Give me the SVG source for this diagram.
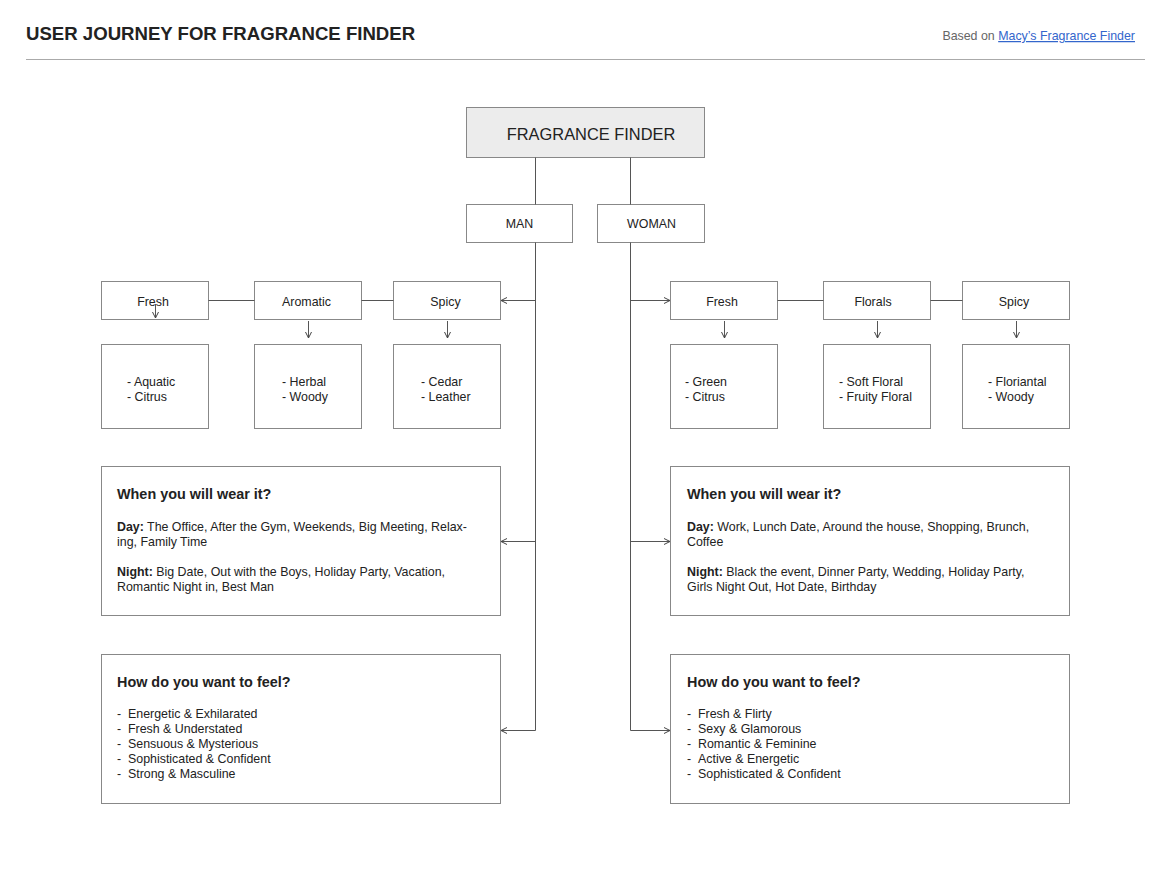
<svg xmlns="http://www.w3.org/2000/svg" width="1170" height="870" viewBox="0 0 1170 870">
<defs>
<marker id="arr" viewBox="0 0 8 8" refX="7" refY="4" markerWidth="8" markerHeight="8" markerUnits="userSpaceOnUse" orient="auto">
<path d="M1,1 L7,4 L1,7" fill="none" stroke="#444" stroke-width="1"/>
</marker>
<style>
text{font-family:"Liberation Sans",Arial,sans-serif;fill:#222}
.box{fill:#fff;stroke:#888;stroke-width:1}
.root{fill:#ececec;stroke:#888;stroke-width:1}
.lbl{font-size:12.4px;text-anchor:middle}
.t{font-size:12.4px}
.h{font-size:14.4px;font-weight:bold}
.c{fill:none;stroke:#555;stroke-width:1}
.a{fill:none;stroke:#555;stroke-width:1;marker-end:url(#arr)}
</style>
</defs>
<rect width="1170" height="870" fill="#fff"/>
<g id="header">
<text x="26" y="40" style="font-size:18.6px;font-weight:bold">USER JOURNEY FOR FRAGRANCE FINDER</text>
<text x="1135" y="40" style="font-size:12.4px;text-anchor:end"><tspan style="fill:#666">Based on </tspan><tspan style="fill:#3366cc;text-decoration:underline">Macy’s Fragrance Finder</tspan></text>
<line x1="26" y1="59.5" x2="1145" y2="59.5" stroke="#aaa" stroke-width="1"/>
</g>
<g id="root"><rect class="root" x="466.5" y="107.5" width="238" height="50"/><text x="591" y="140" style="font-size:16.4px;text-anchor:middle">FRAGRANCE FINDER</text></g>
<g id="man"><rect class="box" x="466.5" y="204.5" width="106" height="38"/><text class="lbl" x="519.5" y="228">MAN</text></g>
<g id="woman"><rect class="box" x="597.5" y="204.5" width="107" height="38"/><text class="lbl" x="651.5" y="228">WOMAN</text></g>
<g id="m-fresh"><rect class="box" x="101.5" y="281.5" width="107" height="38"/><text class="lbl" x="153" y="306">Fresh</text></g>
<g id="m-aromatic"><rect class="box" x="254.5" y="281.5" width="107" height="38"/><text class="lbl" x="306.5" y="306">Aromatic</text></g>
<g id="m-spicy"><rect class="box" x="393.5" y="281.5" width="107" height="38"/><text class="lbl" x="445.5" y="306">Spicy</text></g>
<g id="w-fresh"><rect class="box" x="670.5" y="281.5" width="107" height="38"/><text class="lbl" x="722" y="306">Fresh</text></g>
<g id="w-florals"><rect class="box" x="823.5" y="281.5" width="107" height="38"/><text class="lbl" x="873" y="306">Florals</text></g>
<g id="w-spicy"><rect class="box" x="962.5" y="281.5" width="107" height="38"/><text class="lbl" x="1014" y="306">Spicy</text></g>
<g id="m-fresh-sub"><rect class="box" x="101.5" y="344.5" width="107" height="84"/><text class="t" x="127" y="386">- Aquatic</text><text class="t" x="127" y="401">- Citrus</text></g>
<g id="m-aromatic-sub"><rect class="box" x="254.5" y="344.5" width="107" height="84"/><text class="t" x="282" y="386">- Herbal</text><text class="t" x="282" y="401">- Woody</text></g>
<g id="m-spicy-sub"><rect class="box" x="393.5" y="344.5" width="107" height="84"/><text class="t" x="421" y="386">- Cedar</text><text class="t" x="421" y="401">- Leather</text></g>
<g id="w-fresh-sub"><rect class="box" x="670.5" y="344.5" width="107" height="84"/><text class="t" x="685" y="386">- Green</text><text class="t" x="685" y="401">- Citrus</text></g>
<g id="w-florals-sub"><rect class="box" x="823.5" y="344.5" width="107" height="84"/><text class="t" x="839" y="386">- Soft Floral</text><text class="t" x="839" y="401">- Fruity Floral</text></g>
<g id="w-spicy-sub"><rect class="box" x="962.5" y="344.5" width="107" height="84"/><text class="t" x="988" y="386">- Floriantal</text><text class="t" x="988" y="401">- Woody</text></g>
<g id="m-when"><rect class="box" x="101.5" y="466.5" width="399" height="149"/>
<text class="h" x="117" y="499">When you will wear it?</text>
<text class="t" x="117" y="531"><tspan font-weight="bold">Day:</tspan> The Office, After the Gym, Weekends, Big Meeting, Relax-</text>
<text class="t" x="117" y="546">ing, Family Time</text>
<text class="t" x="117" y="576"><tspan font-weight="bold">Night:</tspan> Big Date, Out with the Boys, Holiday Party, Vacation,</text>
<text class="t" x="117" y="591">Romantic Night in, Best Man</text>
</g>
<g id="w-when"><rect class="box" x="670.5" y="466.5" width="399" height="149"/>
<text class="h" x="687" y="499">When you will wear it?</text>
<text class="t" x="687" y="531"><tspan font-weight="bold">Day:</tspan> Work, Lunch Date, Around the house, Shopping, Brunch,</text>
<text class="t" x="687" y="546">Coffee</text>
<text class="t" x="687" y="576"><tspan font-weight="bold">Night:</tspan> Black the event, Dinner Party, Wedding, Holiday Party,</text>
<text class="t" x="687" y="591">Girls Night Out, Hot Date, Birthday</text>
</g>
<g id="m-feel"><rect class="box" x="101.5" y="654.5" width="399" height="149"/>
<text class="h" x="117" y="687">How do you want to feel?</text>
<text class="t" x="117" y="718">-</text><text class="t" x="128" y="718">Energetic &amp; Exhilarated</text>
<text class="t" x="117" y="733">-</text><text class="t" x="128" y="733">Fresh &amp; Understated</text>
<text class="t" x="117" y="748">-</text><text class="t" x="128" y="748">Sensuous &amp; Mysterious</text>
<text class="t" x="117" y="763">-</text><text class="t" x="128" y="763">Sophisticated &amp; Confident</text>
<text class="t" x="117" y="778">-</text><text class="t" x="128" y="778">Strong &amp; Masculine</text>
</g>
<g id="w-feel"><rect class="box" x="670.5" y="654.5" width="399" height="149"/>
<text class="h" x="687" y="687">How do you want to feel?</text>
<text class="t" x="687" y="718">-</text><text class="t" x="698" y="718">Fresh &amp; Flirty</text>
<text class="t" x="687" y="733">-</text><text class="t" x="698" y="733">Sexy &amp; Glamorous</text>
<text class="t" x="687" y="748">-</text><text class="t" x="698" y="748">Romantic &amp; Feminine</text>
<text class="t" x="687" y="763">-</text><text class="t" x="698" y="763">Active &amp; Energetic</text>
<text class="t" x="687" y="778">-</text><text class="t" x="698" y="778">Sophisticated &amp; Confident</text>
</g>
<g id="connectors">
<path class="c" d="M535.5,157.5 V204.5 M630.5,157.5 V204.5"/>
<path class="c" d="M535.5,242.5 V730.5 M630.5,242.5 V730.5"/>
<path class="a" d="M535.5,300.5 H501"/>
<path class="a" d="M630.5,300.5 H670"/>
<path class="a" d="M535.5,541.5 H501"/>
<path class="a" d="M630.5,541.5 H670"/>
<path class="a" d="M535.5,730.5 H501"/>
<path class="a" d="M630.5,730.5 H670"/>
<path class="c" d="M208.5,300.5 H254.5 M361.5,300.5 H393.5 M777.5,300.5 H823.5 M930.5,300.5 H962.5"/>
<path class="a" d="M155.5,304 V318"/>
<path class="a" d="M308.5,321 V338"/>
<path class="a" d="M447.5,321 V338"/>
<path class="a" d="M724.5,321 V338"/>
<path class="a" d="M877.5,321 V338"/>
<path class="a" d="M1016.5,321 V338"/>
</g>
</svg>
